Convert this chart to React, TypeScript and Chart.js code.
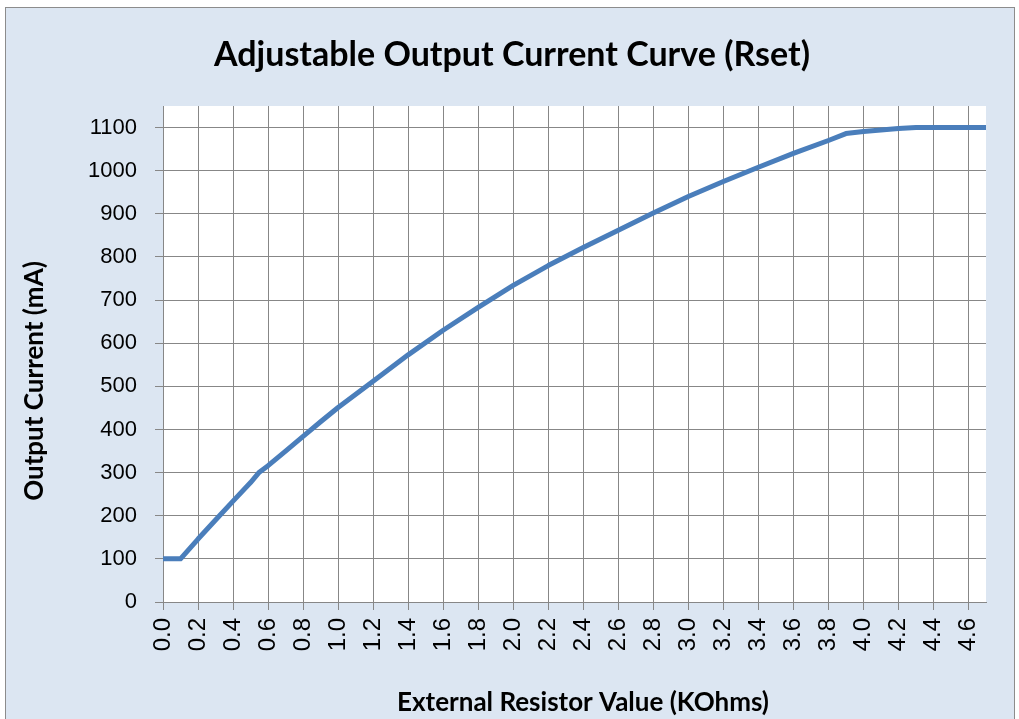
import React, { useEffect, useRef } from "react";
import { Chart, registerables } from "chart.js";

Chart.register(...registerables);

const chartTitle = "Adjustable Output Current Curve (Rset)";
const xAxisTitle = "External Resistor Value (KOhms)";
const yAxisTitle = "Output Current (mA)";

const resistorValues = [0, 0.1, 0.2, 0.3, 0.4, 0.5, 0.55, 0.6, 0.7, 0.8, 0.9, 1.0, 1.2, 1.4, 1.6, 1.8, 2.0, 2.2, 2.4, 2.6, 2.8, 3.0, 3.2, 3.4, 3.6, 3.8, 3.9, 4.0, 4.2, 4.3, 4.4, 4.6, 4.7];
const currentValues = [100, 100, 146, 190, 234, 277, 301, 316, 350, 384, 418, 451, 512, 573, 630, 683, 734, 780, 822, 862, 902, 940, 975, 1008, 1040, 1070, 1086, 1091, 1098, 1100, 1100, 1100, 1100];

const xTickValues = [0, 0.2, 0.4, 0.6, 0.8, 1.0, 1.2, 1.4, 1.6, 1.8, 2.0, 2.2, 2.4, 2.6, 2.8, 3.0, 3.2, 3.4, 3.6, 3.8, 4.0, 4.2, 4.4, 4.6];
const yTickValues = [0, 100, 200, 300, 400, 500, 600, 700, 800, 900, 1000, 1100];

const xMin = 0;
const xMax = 4.7;
const yMin = 0;
const yMax = 1150;

const BG = "#dce6f2";
const GRID = "#878787";
const LINE = "#4a7ebb";

export default function App() {
  const ref = useRef<HTMLCanvasElement | null>(null);

  useEffect(() => {
    if (!ref.current) return;
    const bgPlugin = {
      id: "bgPlugin",
      beforeDraw(chart: any) {
        const { ctx, chartArea } = chart;
        ctx.save();
        ctx.fillStyle = BG;
        ctx.fillRect(0, 0, chart.width, chart.height);
        ctx.fillStyle = "#ffffff";
        ctx.fillRect(chartArea.left, chartArea.top, chartArea.right - chartArea.left, chartArea.bottom - chartArea.top);
        ctx.restore();
      },
      afterDraw(chart: any) {
        const { ctx } = chart;
        ctx.save();
        ctx.fillStyle = "#000000";
        ctx.textAlign = "center";
        ctx.textBaseline = "middle";
        ctx.font = "bold 34px Lato";
        ctx.fillText(chartTitle, 506, 47);
        ctx.font = "bold 26px Lato";
        ctx.fillText(xAxisTitle, 577, 695);
        ctx.translate(29, 373);
        ctx.rotate(-Math.PI / 2);
        ctx.fillText(yAxisTitle, 0, 0);
        ctx.restore();
      },
    };

    const chart = new Chart(ref.current, {
      type: "line",
      data: {
        datasets: [
          {
            data: resistorValues.map((x, i) => ({ x, y: currentValues[i] })),
            borderColor: LINE,
            borderWidth: 5,
            pointRadius: 0,
            tension: 0,
            borderJoinStyle: "round",
            borderCapStyle: "round",
            fill: false,
          },
        ],
      },
      options: {
        responsive: false,
        animation: false,
        layout: { padding: { top: 98, right: 28, left: 0, bottom: 0 } },
        plugins: { legend: { display: false }, tooltip: { enabled: false }, title: { display: false } },
        scales: {
          x: {
            type: "linear",
            min: xMin,
            max: xMax,
            ticks: {
              autoSkip: false,
              minRotation: 90,
              maxRotation: 90,
              padding: 8,
              color: "#000000",
              font: { family: "Liberation Sans", size: 24 },
              callback: (v: any) => Number(v).toFixed(1),
            },
            afterBuildTicks: (scale: any) => {
              scale.ticks = xTickValues.map((v) => ({ value: v }));
            },
            afterFit: (scale: any) => {
              scale.height = 122;
            },
            grid: { color: GRID, lineWidth: 1, tickLength: 8, drawTicks: true, tickColor: GRID },
            border: { color: GRID, width: 1 },
          },
          y: {
            type: "linear",
            min: yMin,
            max: yMax,
            ticks: {
              padding: 18,
              color: "#000000",
              font: { family: "Liberation Sans", size: 22 },
              callback: (v: any) => String(v),
            },
            afterBuildTicks: (scale: any) => {
              scale.ticks = yTickValues.map((v) => ({ value: v }));
            },
            afterFit: (scale: any) => {
              scale.width = 157;
            },
            grid: { color: GRID, lineWidth: 1, tickLength: 8, drawTicks: true, tickColor: GRID },
            border: { color: GRID, width: 1 },
          },
        },
      },
      plugins: [bgPlugin],
    } as any);
    return () => chart.destroy();
  }, []);

  return (
    <div
      style={{
        position: "absolute",
        left: 5,
        top: 7,
        width: 1008,
        height: 716,
        border: "1px solid #8c8c8c",
        background: BG,
      }}
    >
      <canvas ref={ref} width={1008} height={716} style={{ display: "block", width: 1008, height: 716 }} />
    </div>
  );
}
